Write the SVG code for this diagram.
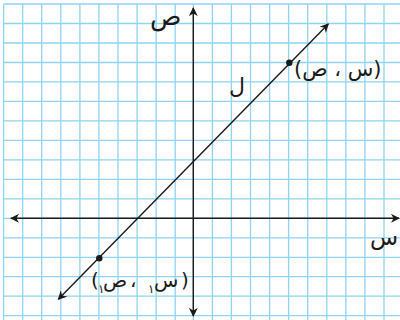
<svg xmlns="http://www.w3.org/2000/svg" width="400" height="320" viewBox="0 0 400 320">
<defs>
<style>
.g{stroke:#8fd4f2;stroke-width:1.3;fill:none}
.ax{stroke:#1a1a1a;stroke-width:1.4;fill:none}
.t{font-family:"DejaVu Sans",sans-serif;fill:#1a1a1a}
</style>
<marker id="ah" viewBox="0 0 10 10" refX="9" refY="5" markerWidth="9" markerHeight="9" markerUnits="userSpaceOnUse" orient="auto-start-reverse">
<path d="M0,0 L10,5 L0,10 L3,5 Z" fill="#1a1a1a"/>
</marker>
</defs>
<rect width="400" height="320" fill="#fff"/>
<g id="grid" class="g">
<path d="M3.6,4V320 M22.7,4V320 M41.7,4V320 M60.8,4V320 M79.9,4V320 M98.9,4V320 M118,4V320 M137.1,4V320 M156.1,4V320 M175.2,4V320 M193.3,4V320 M212.4,4V320 M231.4,4V320 M250.5,4V320 M269.6,4V320 M288.6,4V320 M307.7,4V320 M326.8,4V320 M345.8,4V320 M364.9,4V320 M384,4V320"/>
<path d="M3.6,4H400 M3.6,23.5H400 M3.6,43H400 M3.6,62.5H400 M3.6,81.9H400 M3.6,101.4H400 M3.6,120.9H400 M3.6,140.4H400 M3.6,159.9H400 M3.6,179.3H400 M3.6,198.8H400 M3.6,218.3H400 M3.6,237.8H400 M3.6,257.3H400 M3.6,276.7H400 M3.6,296.2H400 M3.6,315.7H400"/>
</g>
<g id="axes">
<line id="x-axis" class="ax" x1="11" y1="218.3" x2="399" y2="218.3" marker-start="url(#ah)" marker-end="url(#ah)"/>
<line id="y-axis" class="ax" x1="193.3" y1="8" x2="193.3" y2="316" marker-start="url(#ah)" marker-end="url(#ah)"/>
</g>
<g id="connectors">
<line id="line-l" class="ax" x1="58.3" y1="299.3" x2="328.3" y2="24" marker-start="url(#ah)" marker-end="url(#ah)"/>
</g>
<g id="point-upper">
<circle cx="289.3" cy="62.7" r="3.2" fill="#1a1a1a"/>
<text class="t" x="294" y="76" font-size="21">(س ، ص)</text>
</g>
<g id="point-lower">
<circle cx="99.3" cy="258.3" r="3.2" fill="#1a1a1a"/>
<text class="t" x="91" y="287" font-size="20">(</text>
<text class="t" x="98" y="293" font-size="12">١</text>
<text class="t" x="103" y="287" font-size="20">ص</text>
<text class="t" x="130" y="287" font-size="20">،</text>
<text class="t" x="148" y="293" font-size="12">١</text>
<text class="t" x="154" y="287" font-size="20">س</text>
<text class="t" x="181" y="287" font-size="20">)</text>
</g>
<g id="labels">
<text class="t" x="150" y="25" font-size="26">ص</text>
<text class="t" x="370" y="245" font-size="23">س</text>
<text class="t" x="229" y="94" font-size="22">ل</text>
</g>
</svg>
